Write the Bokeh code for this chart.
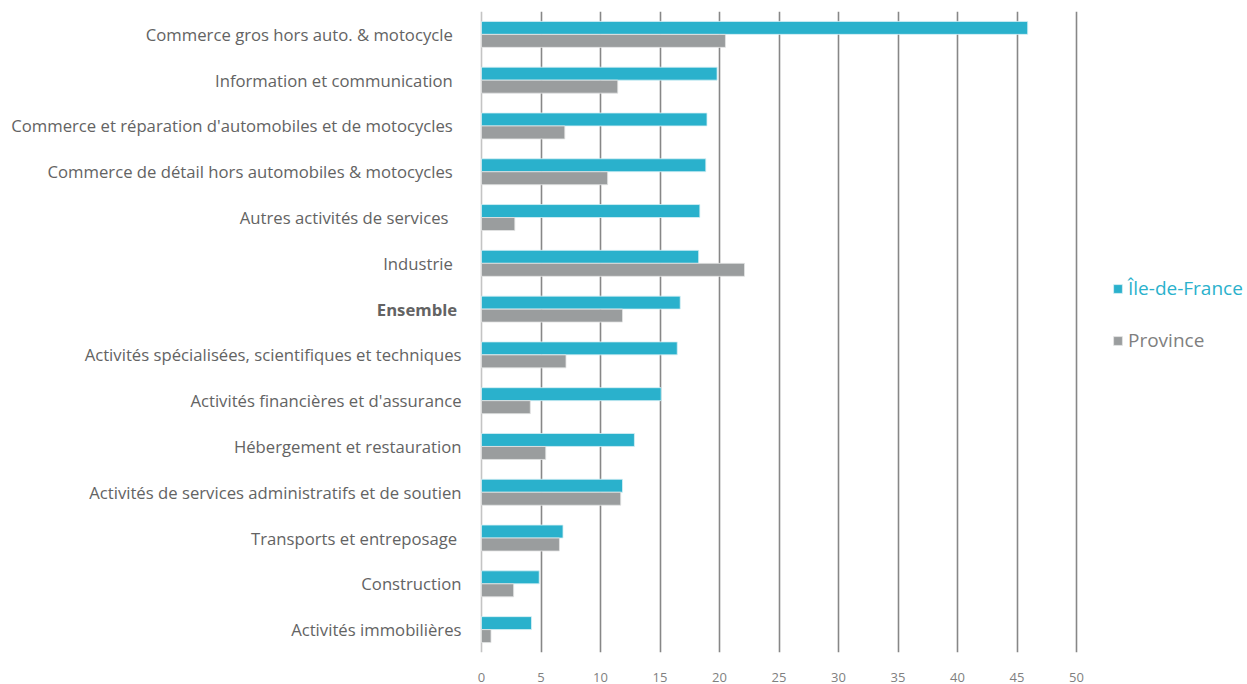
from bokeh.plotting import figure
from bokeh.models import (ColumnDataSource, FixedTicker, LabelSet, Legend,
                          LegendItem, Span, Range1d)
from bokeh.core.properties import value
from bokeh.transform import dodge
from bokeh.embed import file_html
from bokeh.resources import INLINE

NB = "\u00a0"

categories = [
    "Commerce gros hors auto. & motocycle" + NB * 2,
    "Information et communication" + NB * 2,
    "Commerce et réparation d'automobiles et de motocycles" + NB * 2,
    "Commerce de détail hors automobiles & motocycles" + NB * 2,
    "Autres activités de services" + NB * 3,
    "Industrie" + NB * 2,
    "Ensemble" + NB,
    "Activités spécialisées, scientifiques et techniques",
    "Activités financières et d'assurance",
    "Hébergement et restauration",
    "Activités de services administratifs et de soutien",
    "Transports et entreposage" + NB,
    "Construction",
    "Activités immobilières",
]
idf = [45.9, 19.8, 18.95, 18.85, 18.35, 18.25, 16.7, 16.45, 15.1, 12.85,
       11.85, 6.85, 4.85, 4.2]
province = [20.5, 11.45, 7.0, 10.6, 2.8, 22.1, 11.85, 7.1, 4.1, 5.4,
            11.7, 6.55, 2.7, 0.8]
series_names = ["Île-de-France", "Province"]
x_ticks = [0, 5, 10, 15, 20, 25, 30, 35, 40, 45, 50]

C_IDF = "#2AB1CC"
C_PROV = "#9A9D9E"
TXT = "#636363"

W, H = 1247, 684
X0_PX, X50_PX = 481, 1076
scale = (X50_PX - X0_PX) / 50.0
x_start = -X0_PX / scale
x_end = x_start + W / scale

src = ColumnDataSource(dict(
    cat=categories,
    idf=idf,
    prov=province,
    style=["bold" if c.strip().startswith("Ensemble") else "normal" for c in categories],
))

p = figure(width=W, height=H, y_range=list(reversed(categories)),
           x_range=Range1d(x_start, x_end), output_backend="svg",
           toolbar_location=None,
           min_border_left=0, min_border_right=0, min_border_top=11,
           min_border_bottom=31)
p.outline_line_color = None
p.background_fill_color = "white"
p.border_fill_color = "white"

p.xgrid.ticker = FixedTicker(ticks=x_ticks[1:])
p.xgrid.grid_line_color = "#878787"
p.xgrid.grid_line_width = 1.6
p.ygrid.grid_line_color = None
p.add_layout(Span(location=0, dimension="height", line_color="#c4c4c4",
                  line_width=1.6, level="underlay"))

r1 = p.hbar(y=dodge("cat", 0.142, range=p.y_range), right="idf", left=0,
            height=0.283, source=src, fill_color=C_IDF, line_color="#d8f0f5",
            line_width=0.8)
r2 = p.hbar(y=dodge("cat", -0.142, range=p.y_range), right="prov", left=0,
            height=0.283, source=src, fill_color=C_PROV, line_color="#e3e4e4",
            line_width=0.8)

p.yaxis.visible = False

xa = p.xaxis[0]
xa.ticker = FixedTicker(ticks=x_ticks)
xa.axis_line_color = None
xa.major_tick_line_color = None
xa.minor_tick_line_color = None
xa.major_label_standoff = 14
xa.major_label_text_font = "Open Sans"
xa.major_label_text_font_size = "13px"
xa.major_label_text_color = "#7f7f7f"

labels = LabelSet(x=0, y="cat", text="cat", source=src, x_offset=-20,
                  text_align="right", text_baseline="middle",
                  text_font=value("Open Sans"), text_font_size="16.7px",
                  text_color=TXT, text_font_style="style")
p.add_layout(labels)

leg1 = Legend(items=[LegendItem(label=series_names[0], renderers=[r1])],
              location=(1112, 351), label_text_color=C_IDF,
              label_text_font="Open Sans", label_text_font_size="19px",
              glyph_width=11, glyph_height=11, label_standoff=5,
              padding=0, margin=0, border_line_color=None,
              background_fill_alpha=0)
leg2 = Legend(items=[LegendItem(label=series_names[1], renderers=[r2])],
              location=(1112, 299), label_text_color="#7f7f7f",
              label_text_font="Open Sans", label_text_font_size="19px",
              glyph_width=11, glyph_height=11, label_standoff=5,
              padding=0, margin=0, border_line_color=None,
              background_fill_alpha=0)
p.add_layout(leg1)
p.add_layout(leg2)

open("out.html", "w").write(file_html(p, INLINE))
